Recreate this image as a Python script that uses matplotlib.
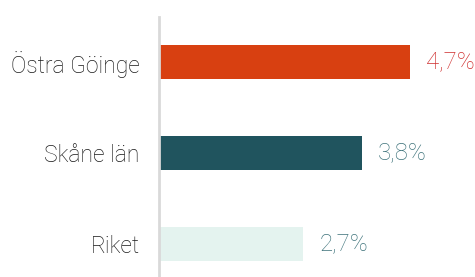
import matplotlib
matplotlib.use("Agg")
import matplotlib.pyplot as plt

categories = ["Östra Göinge", "Skåne län", "Riket"]
values = [4.7, 3.8, 2.7]
value_labels = ["4,7%", "3,8%", "2,7%"]
bar_colors = ["#d84011", "#20545e", "#e4f3ef"]
label_colors = ["#cf2f2f", "#3e737b", "#3e737b"]

plt.rcParams["font.family"] = ["Roboto", "DejaVu Sans"]

fig = plt.figure(figsize=(4.75, 2.77), dpi=100)
ax = fig.add_axes([159 / 475, 0, 316 / 475, 260 / 277])

pos = list(range(len(categories)))
ax.barh(pos, values, height=0.374, color=bar_colors)

for p, v, lab, c in zip(pos, values, value_labels, label_colors):
    ax.text(v + 0.3, p, lab, va="center", ha="left", fontsize=17.3,
            color=c, fontweight="light")

ax.set_xlim(0, 316 / 53.4)
ax.set_ylim(2.362, -0.495)
ax.set_yticks(pos)
ax.set_yticklabels(categories, fontsize=16.5, fontweight="light", color="#1a1a1a")
ax.tick_params(axis="y", length=0, pad=14)
ax.set_xticks([])

for s in ["top", "right", "bottom"]:
    ax.spines[s].set_visible(False)
ax.spines["left"].set_color("#d9d9d9")
ax.spines["left"].set_linewidth(2)

fig.savefig("out.png", dpi=100)
